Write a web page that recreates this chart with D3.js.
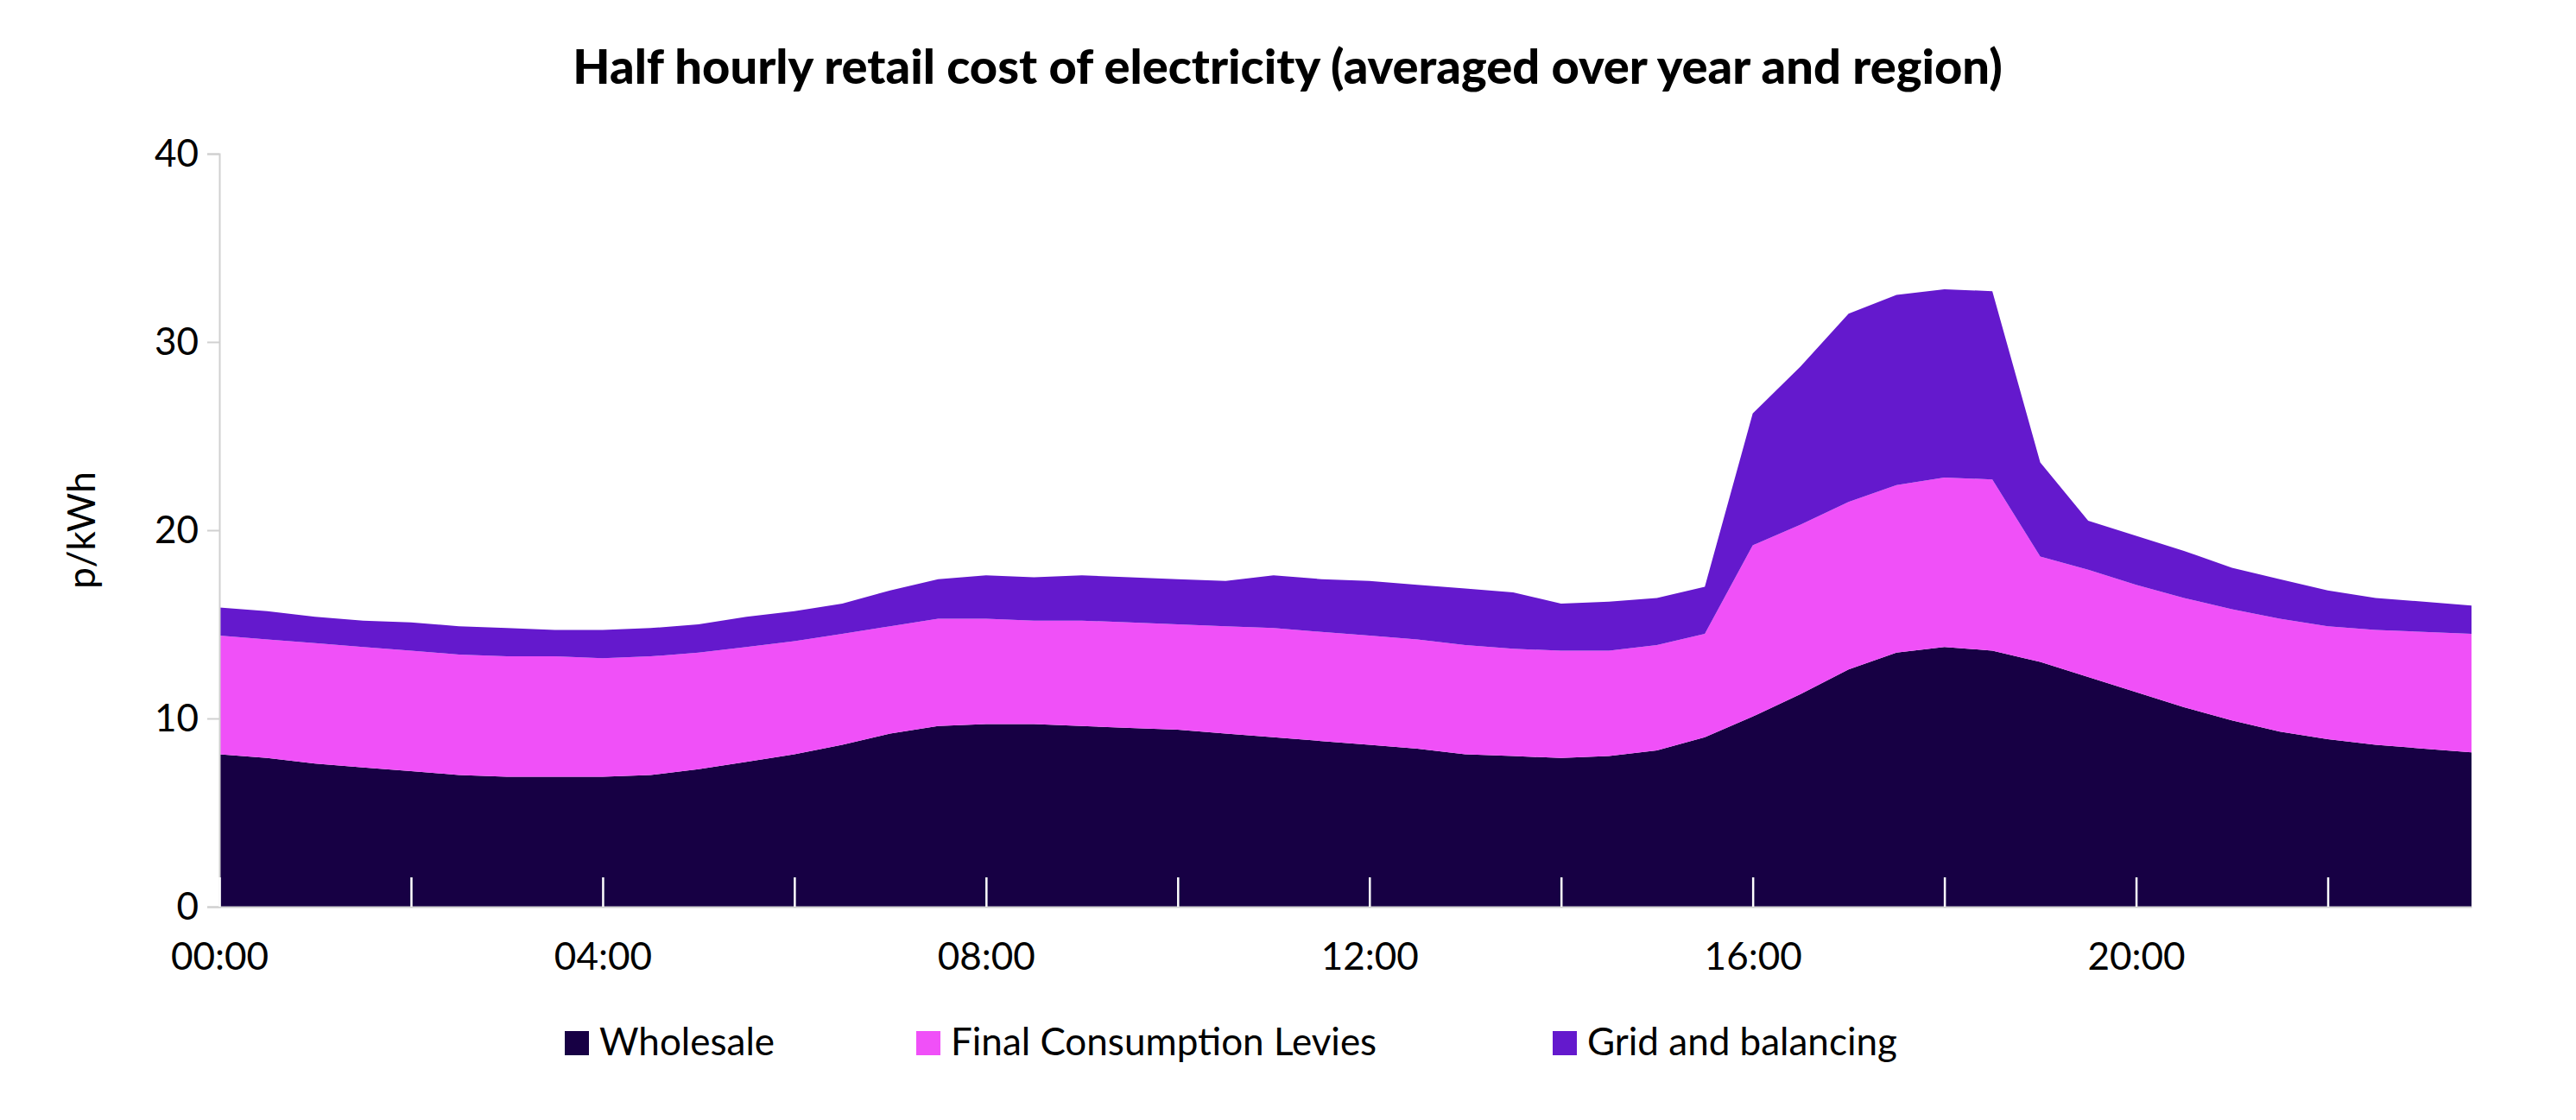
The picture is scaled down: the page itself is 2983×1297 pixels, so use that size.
<!DOCTYPE html>
<html>
<head>
<meta charset="utf-8">
<script src="https://cdn.jsdelivr.net/npm/d3@7"></script>
<style>
  body { margin: 0; background: #fff; }
  text { font-family: "Lato", "Noto Sans", sans-serif; }
</style>
</head>
<body>
<div id="chart"></div>
<script>
// Half-hour slots, 00:00 .. 23:30
const times = d3.range(48).map((i) => i * 0.5);
const tickHours = [0, 4, 8, 12, 16, 20];
const minorHours = d3.range(0, 24, 2);
const seriesNames = ["Wholesale", "Final Consumption Levies", "Grid and balancing"];
const colors = ["#170044", "#f050f8", "#6419cd"];

const wholesale = [8.1, 7.9, 7.6, 7.4, 7.2, 7.0, 6.9, 6.9, 6.9, 7.0, 7.3, 7.7, 8.1, 8.6, 9.2, 9.6,
  9.7, 9.7, 9.6, 9.5, 9.4, 9.2, 9.0, 8.8, 8.6, 8.4, 8.1, 8.0, 7.9, 8.0, 8.3, 9.0,
  10.1, 11.3, 12.6, 13.5, 13.8, 13.6, 13.0, 12.2, 11.4, 10.6, 9.9, 9.3, 8.9, 8.6, 8.4, 8.2];
const levies = [6.3, 6.3, 6.4, 6.4, 6.4, 6.4, 6.4, 6.4, 6.3, 6.3, 6.2, 6.1, 6.0, 5.9, 5.7, 5.7,
  5.6, 5.5, 5.6, 5.6, 5.6, 5.7, 5.8, 5.8, 5.8, 5.8, 5.8, 5.7, 5.7, 5.6, 5.6, 5.5,
  9.1, 9.0, 8.9, 8.9, 9.0, 9.1, 5.6, 5.7, 5.7, 5.8, 5.9, 6.0, 6.0, 6.1, 6.2, 6.3];
const grid = [1.5, 1.5, 1.4, 1.4, 1.5, 1.5, 1.5, 1.4, 1.5, 1.5, 1.5, 1.6, 1.6, 1.6, 1.9, 2.1,
  2.3, 2.3, 2.4, 2.4, 2.4, 2.4, 2.8, 2.8, 2.9, 2.9, 3.0, 3.0, 2.5, 2.6, 2.5, 2.5,
  7.0, 8.4, 10.0, 10.1, 10.0, 10.0, 5.0, 2.6, 2.6, 2.5, 2.2, 2.1, 1.9, 1.7, 1.6, 1.5];
const yTicks = [0, 10, 20, 30, 40];

const width = 2983, height = 1297;
const margin = { top: 178, right: 121, bottom: 247, left: 254 };

const svg = d3.select("#chart").append("svg")
  .attr("width", width).attr("height", height);

const table = times.map((t, i) => ({ t, s0: wholesale[i], s1: levies[i], s2: grid[i] }));
const stack = d3.stack().keys(["s0", "s1", "s2"])(table);

const x = d3.scaleLinear().domain([0, 23.5]).range([margin.left, width - margin.right]);
const y = d3.scaleLinear().domain([0, 40]).range([height - margin.bottom, margin.top]);

const area = d3.area()
  .x((d) => x(d.data.t))
  .y0((d) => y(d[0]))
  .y1((d) => y(d[1]));

svg.selectAll("path.layer")
  .data(stack)
  .enter().append("path")
  .attr("class", "layer")
  .attr("d", area)
  .attr("fill", (d, i) => colors[i]);

// y axis
const yAxis = svg.append("g")
  .attr("transform", `translate(${margin.left},0)`)
  .call(d3.axisLeft(y).tickValues(yTicks).tickSize(14).tickPadding(10));
yAxis.select(".domain").attr("stroke", "#d0d0d0").attr("stroke-width", 2);
yAxis.selectAll(".tick line").attr("stroke", "#d0d0d0").attr("stroke-width", 2);
yAxis.selectAll("text").attr("font-size", 44).attr("fill", "#000");

// x axis: baseline + white ticks pointing up
const xAxis = svg.append("g")
  .attr("transform", `translate(0,${height - margin.bottom})`)
  .call(d3.axisBottom(x).tickValues(minorHours).tickSizeInner(-34).tickSizeOuter(0)
    .tickFormat((h) => tickHours.includes(h) ? String(h).padStart(2, "0") + ":00" : ""));
xAxis.select(".domain").attr("stroke", "#d0d0d0").attr("stroke-width", 2);
xAxis.selectAll(".tick line").attr("stroke", "#fff").attr("stroke-width", 2.5);
xAxis.selectAll("text").attr("font-size", 44).attr("fill", "#000").attr("dy", "1.6em");

// y label
svg.append("text")
  .attr("transform", `translate(110,${y(20)}) rotate(-90)`)
  .attr("text-anchor", "middle")
  .attr("font-size", 44)
  .text("p/kWh");

// title
svg.append("text")
  .attr("x", 1491).attr("y", 97)
  .attr("text-anchor", "middle")
  .attr("font-size", 56).attr("font-weight", 900)
  .text("Half hourly retail cost of electricity (averaged over year and region)");

// legend
const legendX = [654, 1061, 1798];
const legend = svg.selectAll("g.legend")
  .data(seriesNames)
  .enter().append("g")
  .attr("transform", (d, i) => `translate(${legendX[i]},1222)`);
legend.append("rect")
  .attr("x", 0).attr("y", -28).attr("width", 28).attr("height", 28)
  .attr("fill", (d, i) => colors[i]);
legend.append("text")
  .attr("x", 40).attr("y", 0)
  .attr("font-size", 44)
  .text((d) => d);
</script>
</body>
</html>
